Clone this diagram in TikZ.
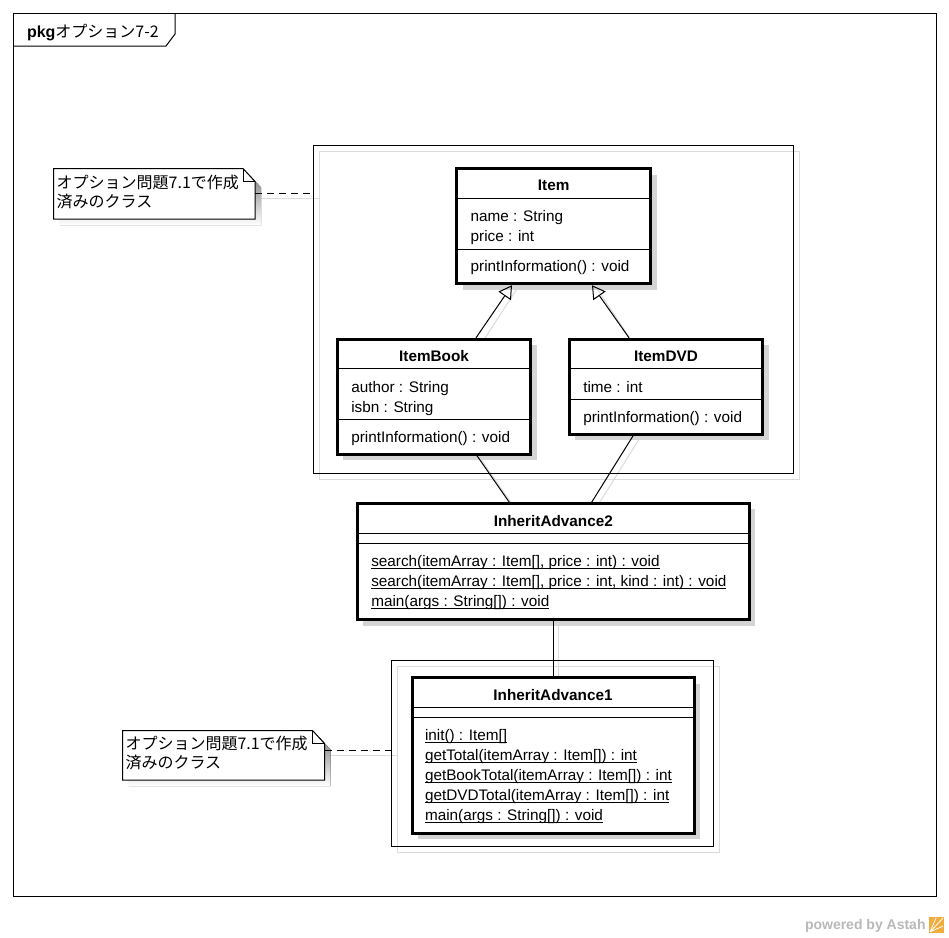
\documentclass[tikz,border=0pt]{standalone}
\usepackage{fontspec}
\setmainfont{Liberation Sans}
\newfontfamily\jpfont{Noto Sans CJK JP}
\usetikzlibrary{arrows.meta,shadows,backgrounds}
\definecolor{shade}{gray}{0.83}
\definecolor{lineshade}{gray}{0.86}
\definecolor{astahgray}{gray}{0.72}
\definecolor{astahorange}{RGB}{240,172,60}
% static (underlined) operation text
\newcommand\statm[1]{\setbox0=\hbox{#1}\rlap{\vrule width\wd0 height -1.6pt depth 2.6pt}\box0}

\begin{document}
\begin{tikzpicture}[x=1pt,y=-1pt,
  every node/.style={inner sep=0pt, outer sep=0pt},
  txt/.style={anchor=base west, font=\fontsize{15.3}{20}\selectfont},
  ttl/.style={anchor=base, font=\fontsize{15.3}{20}\selectfont\bfseries},
  jtxt/.style={anchor=base west, font=\fontsize{16}{20}\selectfont\jpfont},
  classbox/.style={draw, line width=3pt, fill=white, anchor=north west,
    general shadow={fill=shade, shadow xshift=6pt, shadow yshift=-6pt}},
  pkgbox/.style={draw, line width=1pt, anchor=north west},
  notebox/.style={anchor=north west},
  sepline/.style={line width=1.3pt},
  assoc/.style={line width=1pt},
  gen/.style={line width=1pt, -{Triangle[open, length=13pt, width=15pt, line width=1pt]}},
  notelink/.style={line width=1pt, dash pattern=on 7pt off 5pt},
  lshadow/.style={draw=lineshade, line width=1pt, transform canvas={shift={(5pt,-5pt)}}},
]
\useasboundingbox (0,0) rectangle (949,937);

% diagram frame with its name tab
\node[draw, line width=1pt, anchor=north west, minimum width=923pt, minimum height=883pt] (frame) at (13.5,13.5) {};
\draw[line width=1pt] (175,13.5) -- (175,34) -- (166,46) -- (13.5,46);
\node[anchor=base west, font=\fontsize{16}{20}\selectfont] (tabl) at (27,37) {\textbf{pkg}{\jpfont オプション7-2}};

% package frames
\node[pkgbox, minimum width=480pt, minimum height=328pt] (pk1) at (313.5,145.5) {};
\node[pkgbox, minimum width=322pt, minimum height=186pt] (pk2) at (391.5,660.5) {};

% Item
\node[classbox, minimum width=194pt, minimum height=115pt] (item) at (456.7,168.7) {};
\node[ttl] (itemT) at (553.7,190.5) {Item};
\draw[sepline] ([yshift=-29.5pt]item.north west) -- ([yshift=-29.5pt]item.north east);
\node[txt] (itemA1) at (470.7,221.7) {name : String};
\node[txt] (itemA2) at (470.7,241.7) {price : int};
\draw[sepline] ([yshift=-80.5pt]item.north west) -- ([yshift=-80.5pt]item.north east);
\node[txt] (itemM1) at (470.7,271.7) {printInformation() : void};

% ItemBook
\node[classbox, minimum width=193.4pt, minimum height=115pt] (book) at (337.3,339.3) {};
\node[ttl] (bookT) at (434,361) {ItemBook};
\draw[sepline] ([yshift=-29.5pt]book.north west) -- ([yshift=-29.5pt]book.north east);
\node[txt] (bookA1) at (351.3,392.3) {author : String};
\node[txt] (bookA2) at (351.3,412.3) {isbn : String};
\draw[sepline] ([yshift=-80.5pt]book.north west) -- ([yshift=-80.5pt]book.north east);
\node[txt] (bookM1) at (351.3,442.3) {printInformation() : void};

% ItemDVD
\node[classbox, minimum width=193.4pt, minimum height=95pt] (dvd) at (569.3,339.3) {};
\node[ttl] (dvdT) at (666,361) {ItemDVD};
\draw[sepline] ([yshift=-29.5pt]dvd.north west) -- ([yshift=-29.5pt]dvd.north east);
\node[txt] (dvdA1) at (583.3,392.3) {time : int};
\draw[sepline] ([yshift=-60.5pt]dvd.north west) -- ([yshift=-60.5pt]dvd.north east);
\node[txt] (dvdM1) at (583.3,422.3) {printInformation() : void};

% InheritAdvance2
\node[classbox, minimum width=392pt, minimum height=116.5pt] (ia2) at (357.3,503.3) {};
\node[ttl] (ia2T) at (553.3,526) {InheritAdvance2};
\draw[sepline] ([yshift=-30.5pt]ia2.north west) -- ([yshift=-30.5pt]ia2.north east);
\draw[sepline] ([yshift=-40.5pt]ia2.north west) -- ([yshift=-40.5pt]ia2.north east);
\node[txt] (ia2M1) at (371.3,566.8) {\statm{search(itemArray : Item[], price : int) : void}};
\node[txt] (ia2M2) at (371.3,586.8) {\statm{search(itemArray : Item[], price : int, kind : int) : void}};
\node[txt] (ia2M3) at (371.3,606.8) {\statm{main(args : String[]) : void}};

% InheritAdvance1
\node[classbox, minimum width=282pt, minimum height=155.5pt] (ia1) at (412,677.5) {};
\node[ttl] (ia1T) at (553,700) {InheritAdvance1};
\draw[sepline] ([yshift=-30pt]ia1.north west) -- ([yshift=-30pt]ia1.north east);
\draw[sepline] ([yshift=-40pt]ia1.north west) -- ([yshift=-40pt]ia1.north east);
\node[txt] (ia1M1) at (425,740.5) {\statm{init() : Item[]}};
\node[txt] (ia1M2) at (425,760.5) {\statm{getTotal(itemArray : Item[]) : int}};
\node[txt] (ia1M3) at (425,780.5) {\statm{getBookTotal(itemArray : Item[]) : int}};
\node[txt] (ia1M4) at (425,800.5) {\statm{getDVDTotal(itemArray : Item[]) : int}};
\node[txt] (ia1M5) at (425,820.5) {\statm{main(args : String[]) : void}};

% notes
\node[notebox, minimum width=201.5pt, minimum height=50.5pt] (n1) at (53.5,168.5) {};
\node[jtxt] (n1a) at (56.7,188) {オプション問題7.1で作成};
\node[jtxt] (n1b) at (56.7,207.5) {済みのクラス};
\node[notebox, minimum width=202pt, minimum height=49.5pt] (n2) at (122.5,730.5) {};
\node[jtxt] (n2a) at (125.5,749) {オプション問題7.1で作成};
\node[jtxt] (n2b) at (125.5,768.5) {済みのクラス};
\coordinate (n2p) at ([yshift=4.3pt]n2.east);

% connectors
\draw[gen] ([xshift=42pt,yshift=1.5pt]book.north) -- ([xshift=-41.7pt,yshift=-1.5pt]item.south);
\draw[gen] ([xshift=-37pt,yshift=1.5pt]dvd.north) -- ([xshift=38.3pt,yshift=-1.5pt]item.south);
\draw[assoc] ([xshift=42pt]book.south) -- ([xshift=-43.3pt]ia2.north);
\draw[assoc] ([xshift=-32pt]dvd.south) -- ([xshift=37.7pt]ia2.north);
\draw[assoc] (ia2.south) -- (ia2.south |- ia1.north);
\draw[notelink] (n1.east) -- (n1.east -| pk1.west);
\draw[notelink] (n2p) -- (n2p -| pk2.west);

% tool mark
\node[anchor=base west, text=astahgray, font=\fontsize{14}{14}\selectfont\bfseries] (pw) at (805,929) {powered by Astah};
\fill[astahorange] (929,917) rectangle (944,933);
\draw[white, line width=0.8pt] (930,932) -- (943,918) (930,932) -- (943,926) (930,932) -- (936,918);

\begin{pgfonlayer}{background}
  % package frame shadows
  \draw[draw=lineshade, line width=1pt] ([shift={(6pt,-6pt)}]pk1.north west) rectangle ([shift={(6pt,-6pt)}]pk1.south east);
  \draw[draw=lineshade, line width=1pt] ([shift={(6pt,-6pt)}]pk2.north west) rectangle ([shift={(6pt,-6pt)}]pk2.south east);
  % connector shadows
  \draw[lshadow] ([xshift=42pt]book.north) -- ([xshift=-41.7pt]item.south);
  \draw[lshadow] ([xshift=-37pt]dvd.north) -- ([xshift=38.3pt]item.south);
  \draw[lshadow] ([xshift=42pt]book.south) -- ([xshift=-43.3pt]ia2.north);
  \draw[lshadow] ([xshift=-32pt]dvd.south) -- ([xshift=37.7pt]ia2.north);
  \draw[lshadow] (ia2.south) -- (ia2.south |- ia1.north);
  \draw[lshadow] (n1.east) -- (n1.east -| pk1.west);
  \draw[lshadow] (n2p) -- (n2p -| pk2.west);
  % note bodies
  \foreach \n in {n1,n2} {
    \fill[shade, transform canvas={shift={(6pt,-6pt)}}] (\n.north west) -- ([xshift=-12pt]\n.north east) -- ([yshift=-13pt]\n.north east) -- (\n.south east) -- (\n.south west) -- cycle;
    \draw[fill=white, line width=1pt] (\n.north west) -- ([xshift=-12pt]\n.north east) -- ([yshift=-13pt]\n.north east) -- (\n.south east) -- (\n.south west) -- cycle;
    \draw[line width=1pt] ([xshift=-12pt]\n.north east) -- ([xshift=-12pt,yshift=-13pt]\n.north east) -- ([yshift=-13pt]\n.north east);
  }
\end{pgfonlayer}
\end{tikzpicture}
\end{document}
